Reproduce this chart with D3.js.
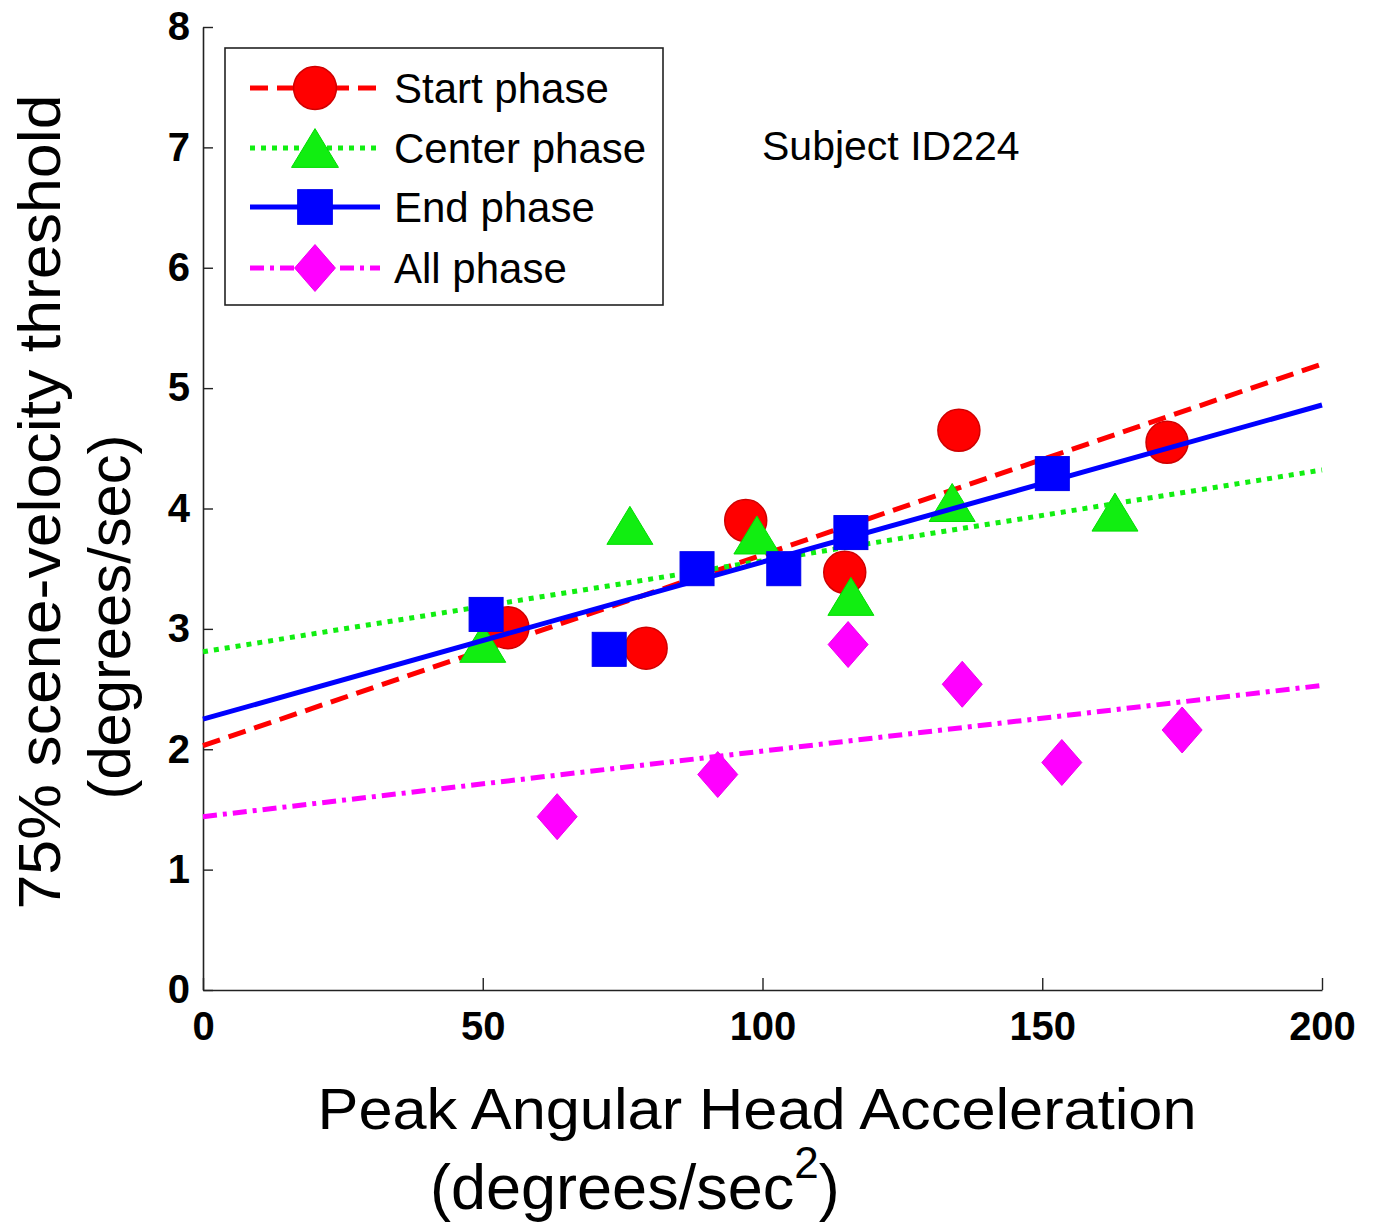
<!DOCTYPE html>
<html>
<head>
<meta charset="utf-8">
<script src="https://cdn.jsdelivr.net/npm/d3@7"></script>
<style>
  html, body { margin: 0; padding: 0; background: #fff; }
  svg { display: block; font-family: "Liberation Sans", Arial, sans-serif; }
</style>
</head>
<body>
<svg id="chart" width="1373" height="1228"></svg>
<script>
// ---- data ----
const xTicks = [0, 50, 100, 150, 200];
const yTicks = [0, 1, 2, 3, 4, 5, 6, 7, 8];

const startX  = [54.5, 79.2, 97.0, 114.7, 135.1, 172.3];
const startY  = [3.01, 2.84, 3.90, 3.47, 4.65, 4.55];
const centerX = [50.0, 76.3, 99.0, 115.8, 133.9, 163.0];
const centerY = [2.88, 3.86, 3.78, 3.27, 4.05, 3.97];
const endX    = [50.6, 72.6, 88.3, 103.8, 115.8, 151.8];
const endY    = [3.12, 2.83, 3.50, 3.50, 3.80, 4.29];
const allX    = [63.3, 92.0, 115.3, 135.7, 153.5, 175.0];
const allY    = [1.44, 1.79, 2.87, 2.54, 1.89, 2.16];

// fitted lines, values read at x = 0 and x = 200
const fitX      = [0, 200];
const startFit  = [2.03, 5.20];
const centerFit = [2.81, 4.32];
const endFit    = [2.25, 4.86];
const allFit    = [1.44, 2.53];

const seriesNames = ["Start phase", "Center phase", "End phase", "All phase"];
const subjectLabel = "Subject ID224";

// ---- drawing ----
const svg = d3.select("#chart");
svg.append("rect").attr("width", 1373).attr("height", 1228).attr("fill", "#fff");

const x = d3.scaleLinear().domain([0, 200]).range([203, 1322]);
const y = d3.scaleLinear().domain([0, 8]).range([990, 27]);

const series = [
  { xs: startX,  ys: startY,  fit: startFit,  color: "#ff0000", edge: "#d00000", dash: "18,9",      shape: "circle" },
  { xs: centerX, ys: centerY, fit: centerFit, color: "#11ee11", edge: "#00dd00", dash: "5,6",       shape: "triangle" },
  { xs: endX,    ys: endY,    fit: endFit,    color: "#0000ff", edge: "#0000ee", dash: null,        shape: "square" },
  { xs: allX,    ys: allY,    fit: allFit,    color: "#ff00ff", edge: "#ee00ee", dash: "14,6,4,6",  shape: "diamond" }
];

function drawMarker(g, shape, cx, cy, s, fill, edge) {
  if (shape === "circle") {
    g.append("circle").attr("cx", cx).attr("cy", cy).attr("r", 21 * s)
      .attr("fill", fill).attr("stroke", edge).attr("stroke-width", 1.5);
  } else if (shape === "square") {
    const h = 17 * s;
    g.append("rect").attr("x", cx - h).attr("y", cy - h).attr("width", 2 * h).attr("height", 2 * h)
      .attr("fill", fill).attr("stroke", edge).attr("stroke-width", 1);
  } else if (shape === "triangle") {
    const w = 23 * s, h = 19 * s;
    g.append("path").attr("d", `M${cx},${cy - h}L${cx + w},${cy + h}L${cx - w},${cy + h}Z`)
      .attr("fill", fill).attr("stroke", edge).attr("stroke-width", 1);
  } else if (shape === "diamond") {
    const w = 20 * s, h = 23 * s;
    g.append("path").attr("d", `M${cx},${cy - h}L${cx + w},${cy}L${cx},${cy + h}L${cx - w},${cy}Z`)
      .attr("fill", fill).attr("stroke", edge).attr("stroke-width", 1);
  }
}

// axes
const gx = svg.append("g").attr("transform", "translate(0,990)")
  .call(d3.axisBottom(x).tickValues(xTicks).tickFormat(d3.format("d"))
        .tickSizeInner(-12).tickSizeOuter(0).tickPadding(22));
const gy = svg.append("g").attr("transform", "translate(203,0)")
  .call(d3.axisLeft(y).tickValues(yTicks).tickFormat(d3.format("d"))
        .tickSizeInner(-10).tickSizeOuter(0).tickPadding(13));
[gx, gy].forEach(g => {
  g.select(".domain").attr("stroke", "#222").attr("stroke-width", 1.6);
  g.selectAll(".tick line").attr("stroke", "#222").attr("stroke-width", 1.4);
  g.selectAll(".tick text").attr("fill", "#000").attr("font-size", 40)
    .attr("font-weight", "bold").attr("font-family", "Liberation Sans, Arial, sans-serif");
});

// plot marks
const plot = svg.append("g");
const line = d3.line().x(d => x(d[0])).y(d => y(d[1]));
series.forEach(s => {
  s.xs.forEach((xv, i) => drawMarker(plot, s.shape, x(xv), y(s.ys[i]), 1, s.color, s.edge));
  plot.append("path")
    .attr("d", line(fitX.map((xv, i) => [xv, s.fit[i]])))
    .attr("fill", "none").attr("stroke", s.color).attr("stroke-width", 5)
    .attr("stroke-dasharray", s.dash);
});

// legend
const lg = svg.append("g");
lg.append("rect").attr("x", 225).attr("y", 48).attr("width", 438).attr("height", 257)
  .attr("fill", "#fff").attr("stroke", "#222").attr("stroke-width", 1.6);
const rowY = [88, 148, 207, 268];
series.forEach((s, i) => {
  lg.append("line").attr("x1", 250).attr("x2", 380).attr("y1", rowY[i]).attr("y2", rowY[i])
    .attr("stroke", s.color).attr("stroke-width", 5).attr("stroke-dasharray", s.dash);
  drawMarker(lg, s.shape, 315, rowY[i], 1.02, s.color, s.edge);
  lg.append("text").attr("x", 394).attr("y", rowY[i] + 15).attr("font-size", 42)
    .attr("fill", "#000").text(seriesNames[i]);
});

// annotation
svg.append("text").attr("x", 762).attr("y", 160).attr("font-size", 41).attr("fill", "#000").text(subjectLabel);

// axis labels
svg.append("text").attr("transform", "translate(60,502) rotate(-90)")
  .attr("text-anchor", "middle").attr("font-size", 60).attr("fill", "#000")
  .attr("textLength", 815).attr("lengthAdjust", "spacingAndGlyphs")
  .text("75% scene-velocity threshold");
svg.append("text").attr("transform", "translate(130,617) rotate(-90)")
  .attr("text-anchor", "middle").attr("font-size", 60).attr("fill", "#000")
  .attr("textLength", 365).attr("lengthAdjust", "spacingAndGlyphs")
  .text("(degrees/sec)");

svg.append("text").attr("x", 757).attr("y", 1129)
  .attr("text-anchor", "middle").attr("font-size", 58).attr("fill", "#000")
  .attr("textLength", 879).attr("lengthAdjust", "spacingAndGlyphs")
  .text("Peak Angular Head Acceleration");
const xl2 = svg.append("text").attr("x", 430).attr("y", 1209)
  .attr("font-size", 63).attr("fill", "#000");
xl2.append("tspan").text("(degrees/sec");
xl2.append("tspan").attr("font-size", 44).attr("dy", -31).text("2");
xl2.append("tspan").attr("dy", 31).text(")");
</script>
</body>
</html>
